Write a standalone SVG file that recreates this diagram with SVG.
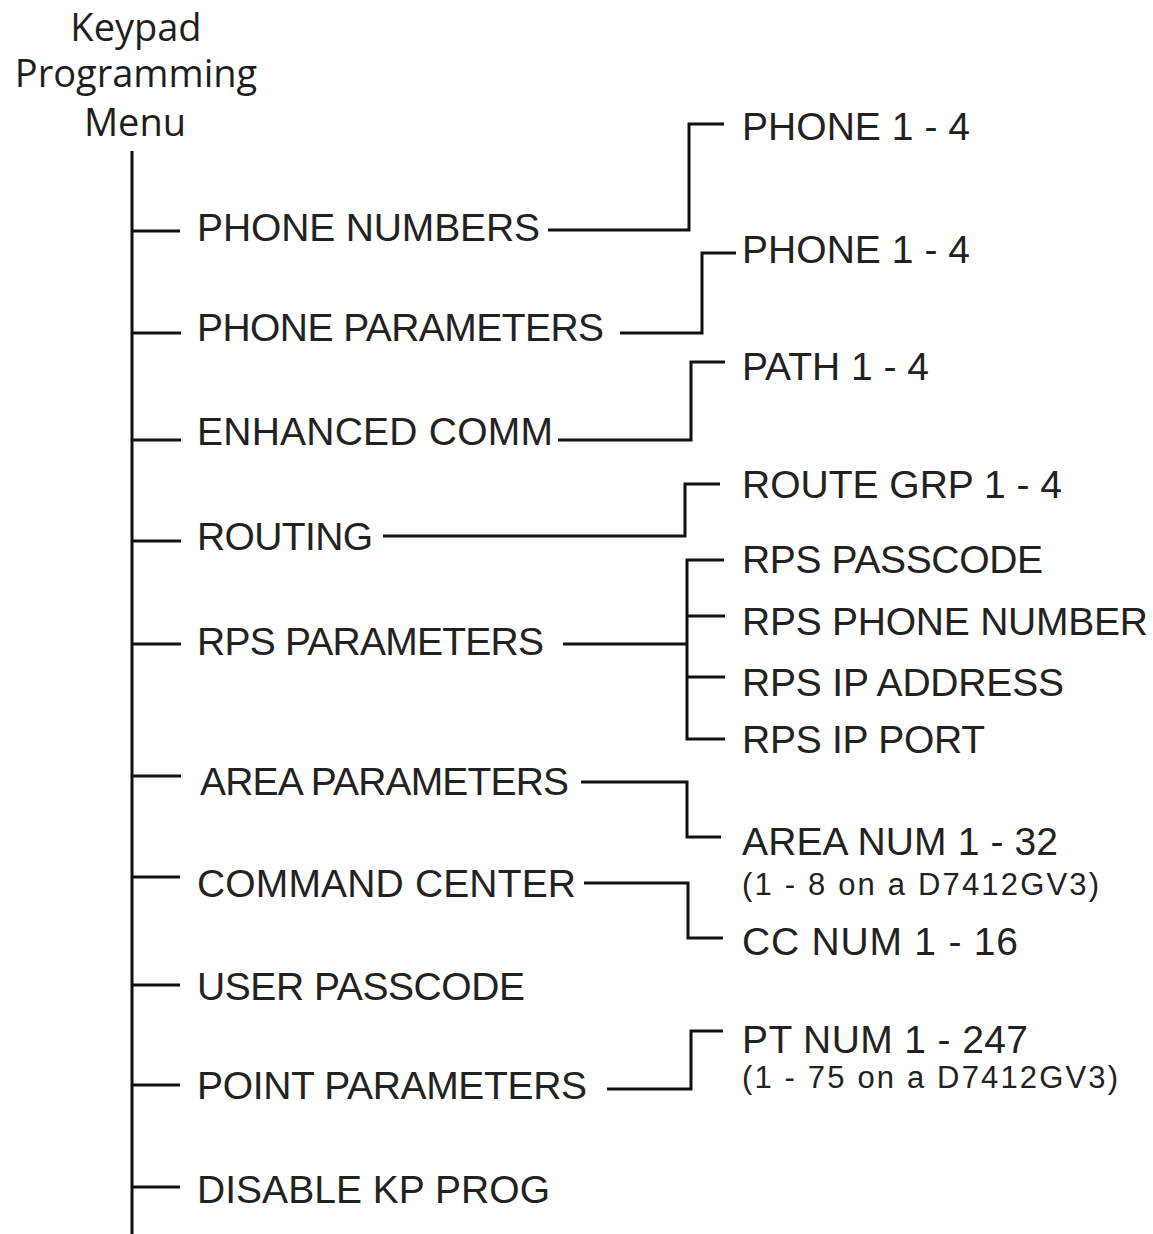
<svg xmlns="http://www.w3.org/2000/svg" width="1153" height="1234" viewBox="0 0 1153 1234">
<style>
.t{font-family:"Open Sans","Noto Sans",sans-serif;font-size:38px;fill:#1e1e1e;text-anchor:middle}
.l{font-family:"Liberation Sans",Arial,sans-serif;font-size:39px;fill:#222}
.s{font-family:"Liberation Sans",Arial,sans-serif;font-size:31px;fill:#222}
.c{fill:none;stroke:#111;stroke-width:3;stroke-linejoin:miter;stroke-linecap:butt}
</style>
<rect width="1153" height="1234" fill="#fff"/>
<g id="root">
<text class="t" x="136" y="41">Keypad</text>
<text class="t" x="136" y="87">Programming</text>
<text class="t" x="135" y="136">Menu</text>
</g>
<g id="connectors" class="c">
<path d="M132,151 V1234"/>
<path d="M132,231 H180 M132,333 H181 M132,440 H181 M132,541 H181 M132,644 H181 M132,776 H181 M132,877 H180 M132,985 H180 M132,1085 H180 M132,1187 H180"/>
<path d="M548,230 H689 V124 H724"/>
<path d="M620,333 H702 V253 H736"/>
<path d="M558,440 H691 V362 H725"/>
<path d="M383,536 H685 V484 H720"/>
<path d="M563,644 H687"/>
<path d="M724,560 H687 V739 H725 M687,616 H725 M687,677 H725"/>
<path d="M581,782 H687 V837 H721"/>
<path d="M584,883 H688 V938 H723"/>
<path d="M607,1089 H691 V1031 H723"/>
</g>
<g id="n-phone-numbers"><text class="l" x="197" y="241" textLength="343">PHONE NUMBERS</text></g>
<g id="n-phone-parameters"><text class="l" x="197" y="341" textLength="407">PHONE PARAMETERS</text></g>
<g id="n-enhanced-comm"><text class="l" x="197" y="445" textLength="356">ENHANCED COMM</text></g>
<g id="n-routing"><text class="l" x="197" y="550" textLength="176">ROUTING</text></g>
<g id="n-rps-parameters"><text class="l" x="197" y="655" textLength="347">RPS PARAMETERS</text></g>
<g id="n-area-parameters"><text class="l" x="200" y="795" textLength="369">AREA PARAMETERS</text></g>
<g id="n-command-center"><text class="l" x="197" y="897" textLength="379">COMMAND CENTER</text></g>
<g id="n-user-passcode"><text class="l" x="197" y="1000" textLength="328">USER PASSCODE</text></g>
<g id="n-point-parameters"><text class="l" x="197" y="1099" textLength="390">POINT PARAMETERS</text></g>
<g id="n-disable-kp-prog"><text class="l" x="197" y="1203" textLength="353">DISABLE KP PROG</text></g>
<g id="n-phone-1-4-a"><text class="l" x="742" y="140" textLength="228">PHONE 1 - 4</text></g>
<g id="n-phone-1-4-b"><text class="l" x="742" y="263" textLength="228">PHONE 1 - 4</text></g>
<g id="n-path-1-4"><text class="l" x="742" y="380" textLength="187">PATH 1 - 4</text></g>
<g id="n-route-grp"><text class="l" x="742" y="498" textLength="320">ROUTE GRP 1 - 4</text></g>
<g id="n-rps-passcode"><text class="l" x="742" y="573" textLength="301">RPS PASSCODE</text></g>
<g id="n-rps-phone-number"><text class="l" x="742" y="635" textLength="406">RPS PHONE NUMBER</text></g>
<g id="n-rps-ip-address"><text class="l" x="742" y="696" textLength="322">RPS IP ADDRESS</text></g>
<g id="n-rps-ip-port"><text class="l" x="742" y="753" textLength="243">RPS IP PORT</text></g>
<g id="n-area-num"><text class="l" x="742" y="855" textLength="316">AREA NUM 1 - 32</text><text class="s" x="742" y="895" textLength="357">(1 - 8 on a D7412GV3)</text></g>
<g id="n-cc-num"><text class="l" x="742" y="955" textLength="276">CC NUM 1 - 16</text></g>
<g id="n-pt-num"><text class="l" x="742" y="1053" textLength="286">PT NUM 1 - 247</text><text class="s" x="742" y="1088" textLength="376">(1 - 75 on a D7412GV3)</text></g>
</svg>
